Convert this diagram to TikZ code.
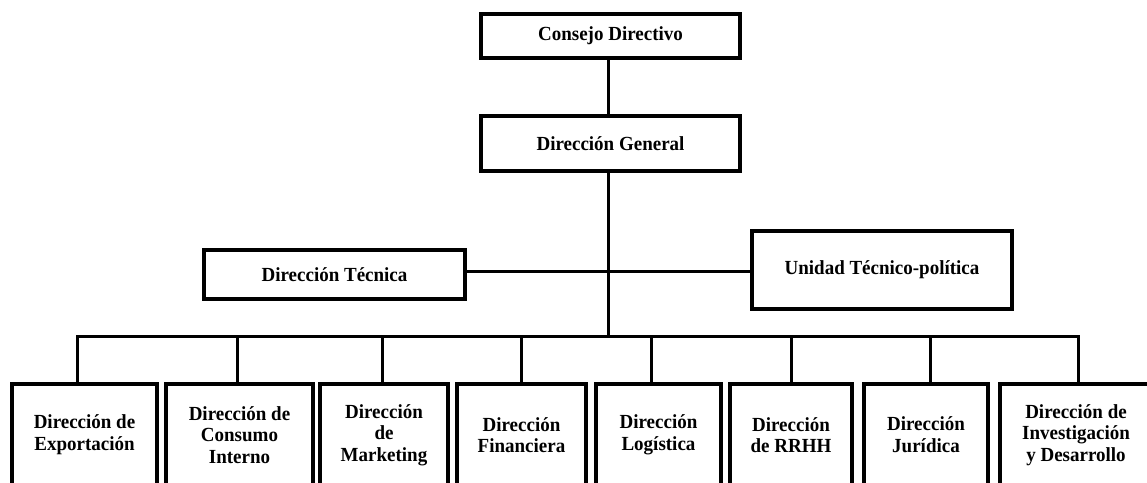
\documentclass[tikz,border=0pt]{standalone}
\usepackage{fontspec}
\setmainfont{Liberation Serif}[FakeStretch=0.95]
\begin{document}
\begin{tikzpicture}[x=1pt,y=1pt,
  box/.style={draw=black, line width=4pt, fill=white, align=center,
    font=\fontsize{20}{21.7}\selectfont\bfseries, inner sep=0pt},
  link/.style={draw=black, line width=3pt}]
\useasboundingbox (0,0) rectangle (1147,482);
% top chain
\node[box, minimum width=259pt, minimum height=44pt] (cd) at (610.5,446) {Consejo Directivo};
\node[box, minimum width=259pt, minimum height=55pt] (dg) at (610.5,338.5) {Dirección General};
\node[box, minimum width=261pt, minimum height=49pt] (dt) at (334.5,207.5) {Dirección Técnica};
\node[box, minimum width=260pt, minimum height=78pt] (ut) at (882,212) {Unidad Técnico-política};
% bottom row
\node[box, minimum width=145pt, minimum height=102pt] (b1) at (84.5,47) {Dirección de\\Exportación};
\node[box, minimum width=147pt, minimum height=102pt] (b2) at (239.5,47) {Dirección de\\Consumo\\Interno};
\node[box, minimum width=128pt, minimum height=102pt] (b3) at (384,47) {Dirección\\de\\Marketing};
\node[box, minimum width=129pt, minimum height=102pt] (b4) at (521.5,47) {Dirección\\Financiera};
\node[box, minimum width=125pt, minimum height=102pt] (b5) at (658.5,47) {Dirección\\Logística};
\node[box, minimum width=122pt, minimum height=102pt] (b6) at (791,47) {Dirección\\de RRHH};
\node[box, minimum width=124pt, minimum height=102pt] (b7) at (926,47) {Dirección\\Jurídica};
\node[box, minimum width=152pt, minimum height=102pt] (b8) at (1076,47) {Dirección de\\Investigación\\y Desarrollo};
% coordinates
\coordinate (vx) at (608,146);
\coordinate (hl) at (608,210);
\coordinate (d1) at (77,146);
\coordinate (d2) at (237,146);
\coordinate (d3) at (382,146);
\coordinate (d4) at (521,146);
\coordinate (d5) at (651,146);
\coordinate (d6) at (791,146);
\coordinate (d7) at (930,146);
\coordinate (d8) at (1078,146);
% connectors
\draw[link] (cd.south -| vx) -- (dg.north -| vx);
\draw[link] (dg.south -| vx) -- (vx);
\draw[link] (dt.east |- hl) -- (ut.west |- hl);
\draw[link] (b1.north -| d1) -- (d1) -- (d8) -- (b8.north -| d8);
\draw[link] (d2) -- (b2.north -| d2);
\draw[link] (d3) -- (b3.north -| d3);
\draw[link] (d4) -- (b4.north -| d4);
\draw[link] (d5) -- (b5.north -| d5);
\draw[link] (d6) -- (b6.north -| d6);
\draw[link] (d7) -- (b7.north -| d7);
\end{tikzpicture}
\end{document}
